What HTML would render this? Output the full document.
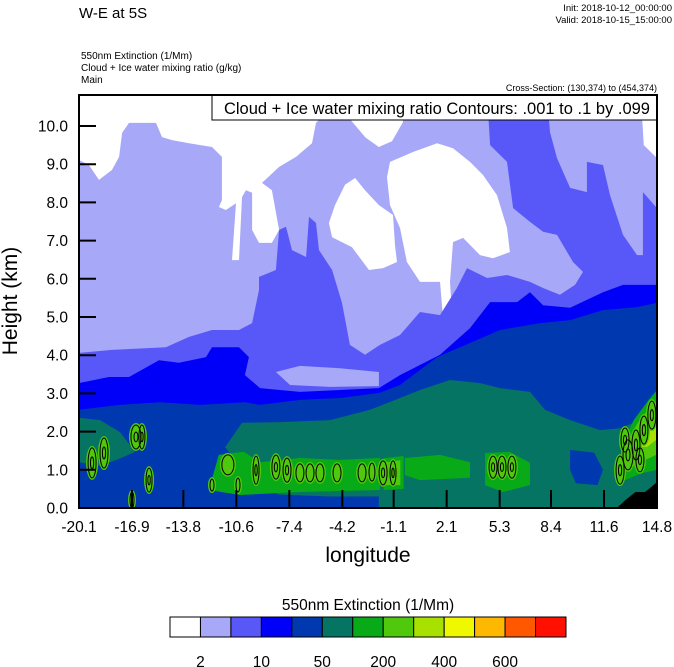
<!DOCTYPE html>
<html><head><meta charset="utf-8"><style>
html,body{margin:0;padding:0;background:#fff;}
svg{display:block;font-family:"Liberation Sans",sans-serif;}
</style></head><body>
<svg id="chart" width="674" height="667" viewBox="0 0 674 667">
<defs><clipPath id="plotclip"><rect x="79" y="95" width="578" height="413"/></clipPath></defs>
<text x="79" y="18" font-size="15">W-E at 5S</text>
<text x="672" y="11" font-size="9.5" text-anchor="end">Init: 2018-10-12_00:00:00</text>
<text x="672" y="23" font-size="9.5" text-anchor="end">Valid: 2018-10-15_15:00:00</text>
<text x="81" y="59" font-size="10">550nm Extinction   (1/Mm)</text>
<text x="81" y="71" font-size="10">Cloud + Ice water mixing ratio   (g/kg)</text>
<text x="81" y="83" font-size="10">Main</text>
<text x="657" y="91" font-size="9" text-anchor="end">Cross-Section: (130,374) to (454,374)</text>
<g id="plot" clip-path="url(#plotclip)"></g>
<g id="overlay"></g>
<g id="axes"></g>
<g id="cbar"></g>
</svg>
<script>
const xTickLabels = ["-20.1","-16.9","-13.8","-10.6","-7.4","-4.2","-1.1","2.1","5.3","8.4","11.6","14.8"];
const xTickValues = [-20.1,-16.9,-13.8,-10.6,-7.4,-4.2,-1.1,2.1,5.3,8.4,11.6,14.8];
const yTickValues = [0,1,2,3,4,5,6,7,8,9,10];
const levelColors = ["#ffffff","#a8a8f8","#5858f8","#0000f8","#0038b0","#057463","#08aa18","#50c80c","#a8e000","#f0f800","#ffb800","#ff5800","#ff1000"];
const levelLabels = ["2","10","50","200","400","600"];
const levelLabelIdx = [1,3,5,7,9,11];

const white1 = [[-20.10,10.81],[-5.61,10.81],[-5.61,10.16],[-5.79,10.08],[-6.03,9.55],[-7.00,9.19],[-8.02,8.93],[-9.05,8.51],[-8.45,8.32],[-8.02,7.28],[-8.45,6.94],[-9.23,6.94],[-9.65,7.28],[-9.65,8.25],[-10.02,8.32],[-10.26,8.14],[-10.44,6.49],[-10.86,6.49],[-10.62,7.98],[-11.23,7.80],[-11.65,7.88],[-11.47,8.06],[-11.47,9.19],[-12.07,9.45],[-13.46,9.55],[-14.48,9.63],[-15.09,9.71],[-15.45,10.08],[-17.08,10.08],[-17.50,9.82],[-17.68,9.19],[-18.11,8.85],[-18.89,8.59],[-19.50,8.98],[-20.10,9.11]];
const white2 = [[-5.01,7.46],[-4.64,7.93],[-4.04,8.46],[-3.43,8.64],[-2.83,8.32],[-1.99,7.93],[-1.14,7.67],[-1.02,6.88],[-0.90,6.44],[-1.74,6.28],[-2.59,6.23],[-3.62,6.83],[-4.82,7.09]];
const white3 = [[-1.32,9.06],[0.07,9.32],[1.52,9.55],[2.48,9.42],[3.51,9.06],[4.29,8.72],[5.14,8.19],[5.74,7.33],[5.92,6.70],[4.90,6.54],[4.11,6.62],[3.09,7.07],[2.48,6.96],[2.30,5.92],[2.42,5.05],[1.88,5.00],[1.70,5.92],[0.49,5.92],[-0.30,6.44],[-0.72,7.33],[-1.32,7.93],[-1.50,8.66]];
const white4 = [[-3.98,10.81],[-0.54,10.81],[-0.54,10.1],[-1.2,9.6],[-2.0,9.45],[-2.8,9.7],[-3.98,10.3]];
const white5 = [[13.89,10.81],[14.80,10.81],[14.80,9.16],[14.0,9.5],[13.89,10.3]];

const mediumTop = [[-20.10,4.06],[-18.11,4.14],[-14.85,4.21],[-13.46,4.48],[-12.07,4.66],[-10.44,4.66],[-9.65,4.84],[-9.23,5.71],[-9.23,6.05],[-8.21,6.23],[-8.02,7.28],[-7.60,7.36],[-7.24,6.75],[-6.39,6.57],[-6.21,7.62],[-5.79,7.46],[-5.61,6.75],[-4.82,6.23],[-4.22,5.37],[-3.74,4.27],[-2.83,4.01],[-1.93,4.27],[-0.72,4.53],[0.49,5.13],[1.70,5.05],[2.72,5.76],[3.33,6.28],[4.54,6.02],[5.74,6.10],[7.13,5.92],[7.92,5.76],[8.94,5.58],[9.85,5.84],[10.33,6.18],[9.73,6.44],[8.76,7.15],[7.92,7.23],[7.13,7.49],[6.11,7.85],[5.74,9.06],[4.72,9.50],[4.54,10.81],[8.16,10.81],[8.34,9.84],[8.76,9.16],[9.55,8.38],[10.57,8.27],[10.57,9.06],[11.54,8.98],[11.96,8.19],[12.75,7.15],[13.59,6.62],[13.95,6.62],[13.95,8.27],[14.80,7.85]];
const lavenderTongue = [[-8.21,3.56],[-6.76,3.72],[-4.34,3.66],[-1.99,3.56],[-1.99,3.19],[-4.94,3.17],[-7.36,3.22]];
const blueTop = [[-20.10,3.27],[-18.29,3.43],[-17.08,3.43],[-15.27,3.87],[-14.06,3.80],[-12.43,3.95],[-12.07,4.21],[-10.44,4.21],[-9.84,3.95],[-10.08,3.48],[-9.17,3.14],[-6.76,3.04],[-4.34,3.09],[-1.99,3.14],[-0.72,3.48],[1.70,4.01],[3.51,4.71],[4.72,5.39],[6.35,5.39],[7.13,5.65],[7.92,5.31],[9.55,5.24],[11.54,5.65],[12.75,5.84],[14.80,5.84]];
const darkBlueTop = [[-20.10,2.57],[-17.63,2.70],[-15.21,2.77],[-12.78,2.70],[-10.08,2.77],[-9.17,2.70],[-6.76,2.83],[-4.34,2.88],[-1.99,3.01],[-0.72,3.22],[1.52,3.95],[3.51,4.32],[5.32,4.66],[7.74,4.84],[9.55,4.92],[11.54,5.18],[13.59,5.26],[14.80,5.37]];
const tealTop = [[-20.10,2.36],[-18.83,2.30],[-17.63,1.99],[-16.72,1.47],[-15.21,1.34],[-12.78,1.36],[-11.26,1.60],[-10.26,2.23],[-7.96,2.25],[-4.94,2.30],[-2.53,2.57],[-0.72,2.88],[0.49,3.09],[2.30,3.35],[4.11,3.27],[5.32,3.14],[7.13,3.04],[8.04,2.57],[9.55,2.30],[11.36,2.04],[12.57,2.09],[13.77,2.30],[14.80,2.30]];
const darkLow = [[-20.10,1.20],[-18.8,1.10],[-17.6,1.30],[-16.7,1.47],[-12.8,1.36],[-11.3,1.60],[-10.5,1.2],[-9.5,0.6],[-8,0.35],[-5,0.3],[-2,0.3],[-2,0],[-20.1,0]];
const darkPatch = [[9.55,1.52],[11.0,1.45],[11.54,1.0],[11.2,0.6],[9.9,0.65],[9.55,1.0]];
const green1 = [[-12.26,0.47],[-11.66,1.39],[-10.15,1.47],[-9.17,1.20],[-6.76,1.31],[-4.34,1.26],[-1.93,1.31],[-1.93,0.47],[-6.76,0.42],[-10.38,0.34]];
const green2 = [[-0.42,1.31],[1.70,1.39],[3.51,1.20],[3.51,0.79],[0.49,0.73],[-0.42,0.86]];
const green3 = [[4.42,1.44],[5.9,1.47],[7.13,1.18],[7.13,0.6],[5.5,0.42],[4.42,0.6]];
const green4 = [[-1.7,1.3],[-0.5,1.36],[-0.5,0.5],[-1.7,0.47]];
const green5 = [[12.5,0.73],[12.8,1.78],[13.4,2.30],[14.3,2.83],[14.8,3.09],[14.8,1.0],[13.8,0.9],[12.9,0.73]];
const lightGreen5 = [[12.9,1.0],[13.1,1.8],[13.6,2.2],[14.3,2.6],[14.8,2.8],[14.8,1.4],[13.8,1.2]];
const yellowGreen5 = [[13.6,1.6],[14.2,2.2],[14.8,2.5],[14.8,1.8],[14.2,1.6]];
const lightGreen4 = [[-1.6,1.2],[-0.7,1.25],[-0.7,0.6],[-1.6,0.6]];
const contourLon = [-19.31,-18.59,-16.66,-16.30,-15.87,-16.90,-12.07,-11.11,-10.50,-9.41,-8.21,-7.54,-6.76,-6.15,-5.55,-4.52,-3.01,-2.41,-1.74,-1.14,4.90,5.44,6.04,12.57,13.05,13.53,14.01,14.49,12.87,13.77];
const contourKm = [1.18,1.44,1.86,1.86,0.73,0.21,0.60,1.13,0.60,0.99,1.07,0.99,0.92,0.92,0.92,0.92,0.92,0.94,0.92,0.92,1.07,1.07,1.07,0.99,1.39,1.65,2.04,2.43,1.78,1.26];
const contourRx = [4,4,5,3,3,2,2,6,2,3,4,4,4,4,4,4,4,3,4,3,4,4,4,4,5,4,4,4,4,4];
const contourRy = [15,15,12,12,12,8,6,10,7,14,12,12,9,9,9,9,9,9,12,12,11,11,11,14,15,15,14,14,12,12];
const terrainLon = [12.38,12.9,13.5,14.07,14.37,14.8];
const terrainKm = [0,0.21,0.42,0.42,0.52,0.68];

const NS = "http://www.w3.org/2000/svg";
const X = lon => 79 + (lon + 20.1) / 34.9 * 578;
const Y = km => 508 - km * 38.2;
function mk(tag, attrs, parent){const e=document.createElementNS(NS,tag);for(const k in attrs)e.setAttribute(k,attrs[k]);parent.appendChild(e);return e;}
const plot = document.getElementById('plot');
function poly(pts, color, name){
  const e = mk('polygon',{points:pts.map(p=>X(p[0]).toFixed(1)+','+Y(p[1]).toFixed(1)).join(' '),fill:color},plot);
  
  
  return e;
}
function band(top, color, name){
  const pts = top.concat([[top[top.length-1][0],0],[top[0][0],0]]);
  return poly(pts, color, name);
}
const bg = mk('rect',{x:79,y:95,width:578,height:413,fill:levelColors[1]},plot);


poly(white1, levelColors[0], 'white-region-topleft');
poly(white2, levelColors[0], 'white-region-middle');
poly(white3, levelColors[0], 'white-region-large');
poly(white4, levelColors[0], 'white-region-top');
poly(white5, levelColors[0], 'white-region-topright');
band(mediumTop, levelColors[2], 'medium-blue-band');
poly(lavenderTongue, levelColors[1], 'lavender-tongue');
band(blueTop, levelColors[3], 'blue-band');
band(darkBlueTop, levelColors[4], 'dark-blue-band');
band(tealTop, levelColors[5], 'teal-band');
poly(darkLow, levelColors[4], 'dark-blue-low-patch');
poly(darkPatch, levelColors[4], 'dark-blue-right-patch');
poly(green1, levelColors[6], 'green-patch-1');
poly(green2, levelColors[6], 'green-patch-2');
poly(green3, levelColors[6], 'green-patch-3');
poly(green4, levelColors[6], 'green-patch-4');
poly(green5, levelColors[6], 'green-patch-5');
poly(lightGreen5, levelColors[7], 'light-green-patch-5');
poly(yellowGreen5, levelColors[8], 'yellow-green-patch-5');
poly(lightGreen4, levelColors[7], 'light-green-patch-4');
for(let i=0;i<contourLon.length;i++){
  const g = mk('ellipse',{cx:X(contourLon[i]),cy:Y(contourKm[i]),rx:contourRx[i]+2,ry:contourRy[i]+2,fill:levelColors[7],stroke:'none'},plot);
  
  
}
for(let i=0;i<contourLon.length;i++){
  const c = mk('ellipse',{cx:X(contourLon[i]),cy:Y(contourKm[i]),rx:contourRx[i],ry:contourRy[i],fill:'none',stroke:'#000','stroke-width':1},plot);
  
  
  if(contourRy[i]>=11){
    const c2 = mk('ellipse',{cx:X(contourLon[i]),cy:Y(contourKm[i]),rx:Math.max(1,contourRx[i]*0.4),ry:contourRy[i]*0.4,fill:'none',stroke:'#000','stroke-width':1},plot);
    
    
  }
}
const tpts = terrainLon.map((l,i)=>[l,terrainKm[i]]).concat([[14.8,0]]);
poly(tpts,'#000','terrain');

const ov = document.getElementById('overlay');
const box = mk('rect',{x:212,y:95,width:445,height:25,fill:'#fff',stroke:'#000','stroke-width':1},ov);


const bt = mk('text',{x:650,y:114,'font-size':16.5,'text-anchor':'end'},ov);
bt.textContent='Cloud + Ice water mixing ratio Contours: .001 to .1 by .099';



const ax = document.getElementById('axes');
const frame = mk('rect',{x:79,y:95,width:578,height:413,fill:'none',stroke:'#000','stroke-width':2},ax);


yTickValues.forEach(v=>{
  const t = mk('line',{x1:79,x2:96,y1:Y(v),y2:Y(v),stroke:'#000','stroke-width':2},ax);
  
  
  const l = mk('text',{x:68,y:Y(v)+5.5,'font-size':15.5,'text-anchor':'end'},ax);
  l.textContent = v.toFixed(1);
  
  
});
xTickValues.forEach((v,i)=>{
  const t = mk('line',{x1:X(v),x2:X(v),y1:508,y2:490,stroke:'#000','stroke-width':2},ax);
  
  
  const l = mk('text',{x:X(v),y:532,'font-size':15.5,'text-anchor':'middle'},ax);
  l.textContent = xTickLabels[i];
  
  
});
const xt = mk('text',{x:368,y:562,'font-size':21,'text-anchor':'middle'},ax);
xt.textContent='longitude';


const yt = mk('text',{x:0,y:0,'font-size':21,'text-anchor':'middle',transform:'translate(17,301) rotate(-90)'},ax);
yt.textContent='Height (km)';



const cb = document.getElementById('cbar');
const cw = 396/levelColors.length;
levelColors.forEach((c,i)=>{
  const r = mk('rect',{x:170+i*cw,y:617,width:cw,height:20,fill:c,stroke:'#000','stroke-width':1},cb);
  
  
});
levelLabels.forEach((s,i)=>{
  const l = mk('text',{x:170+levelLabelIdx[i]*cw,y:667,'font-size':15.5,'text-anchor':'middle'},cb);
  l.textContent = s;
  
  
});
const ct = mk('text',{x:368,y:610,'font-size':15.5,'text-anchor':'middle'},cb);
ct.textContent='550nm Extinction  (1/Mm)';


</script>
</body></html>
